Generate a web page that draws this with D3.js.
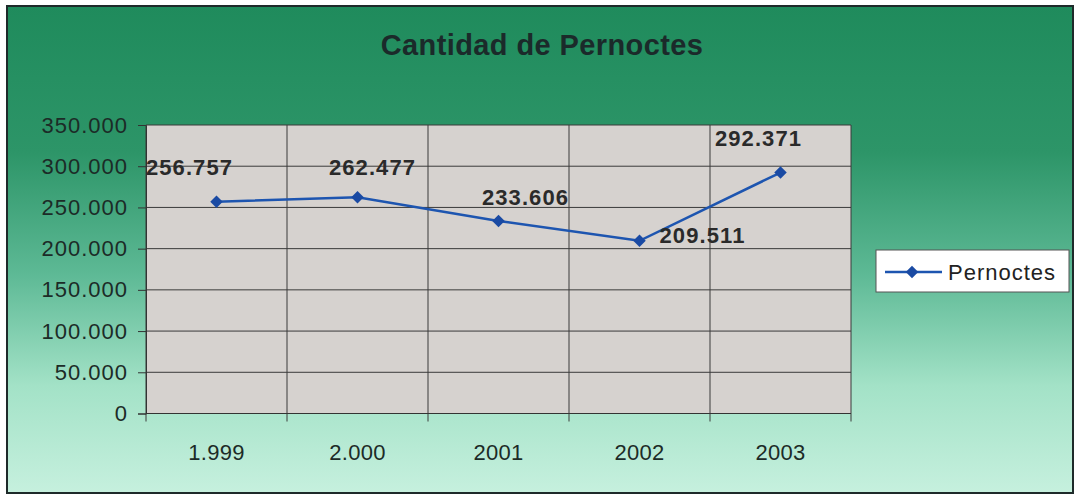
<!DOCTYPE html>
<html>
<head>
<meta charset="utf-8">
<script src="https://cdn.jsdelivr.net/npm/d3@7"></script>
<style>
  body { margin: 0; background: #fff; }
  text { font-family: "Liberation Sans", Arial, sans-serif; }
</style>
</head>
<body>
<svg id="chart" width="1075" height="495"></svg>
<script>
// data
const years = ["1.999", "2.000", "2001", "2002", "2003"];
const pernoctes = [256757, 262477, 233606, 209511, 292371];
const yTicks = [0, 50000, 100000, 150000, 200000, 250000, 300000, 350000];
// label nudges (Excel labels were dragged by hand)
const labelDx = [-27, 15, 27, 63, -22];
const labelDy = [-27, -22, -16, 2, -27];

const svg = d3.select("#chart");
const fmt = v => d3.format(",")(v).replace(/,/g, ".");

// background gradient
const defs = svg.append("defs");
const grad = defs.append("linearGradient").attr("id", "bg")
    .attr("x1", 0).attr("y1", 0).attr("x2", 0).attr("y2", 1);
grad.append("stop").attr("offset", "0%").attr("stop-color", "#1f8b5c");
grad.append("stop").attr("offset", "30%").attr("stop-color", "#2d9568");
grad.append("stop").attr("offset", "55%").attr("stop-color", "#5db995");
grad.append("stop").attr("offset", "78%").attr("stop-color", "#a3e2c7");
grad.append("stop").attr("offset", "100%").attr("stop-color", "#c6f0de");

svg.append("rect")
    .attr("x", 7).attr("y", 6).attr("width", 1066).attr("height", 487)
    .attr("fill", "url(#bg)")
    .attr("stroke", "#1e2a2a").attr("stroke-width", 2);

// title
svg.append("text")
    .attr("x", 542).attr("y", 55)
    .attr("text-anchor", "middle")
    .attr("font-size", 29).attr("font-weight", "bold")
    .attr("letter-spacing", 0.4)
    .attr("fill", "#1b2a2a")
    .text("Cantidad de Pernoctes");

const plotL = 146, plotR = 851, plotT = 125, plotB = 413.5;

const x = d3.scaleBand().domain(years).range([plotL, plotR]);
const y = d3.scaleLinear().domain([0, 350000]).range([plotB, plotT]);

// plot area
svg.append("rect")
    .attr("x", plotL).attr("y", plotT)
    .attr("width", plotR - plotL).attr("height", plotB - plotT)
    .attr("fill", "#d6d2cf");

// horizontal gridlines
svg.append("g").selectAll("line")
    .data(yTicks).enter()
    .append("line")
    .attr("x1", plotL).attr("x2", plotR)
    .attr("y1", d => y(d)).attr("y2", d => y(d))
    .attr("stroke", "#3a3a3a").attr("stroke-width", 1);

// vertical gridlines at category boundaries
const bounds = years.map(d => x(d)).concat([plotR]);
svg.append("g").selectAll("line")
    .data(bounds).enter()
    .append("line")
    .attr("x1", d => d).attr("x2", d => d)
    .attr("y1", plotT).attr("y2", plotB + 8)
    .attr("stroke", "#3a3a3a").attr("stroke-width", 1);

// y axis
const yAxis = svg.append("g")
    .attr("transform", `translate(${plotL},0)`)
    .call(d3.axisLeft(y).tickValues(yTicks).tickFormat(fmt).tickSize(8).tickPadding(10));
yAxis.select(".domain").attr("stroke", "#333");
yAxis.selectAll(".tick line").attr("stroke", "#333");
yAxis.selectAll(".tick text")
    .attr("font-size", 22).attr("letter-spacing", 1)
    .attr("fill", "#1c2b27")
    .attr("font-family", "'Liberation Sans', Arial, sans-serif");

// x axis line + labels
svg.append("line")
    .attr("x1", plotL).attr("x2", plotR)
    .attr("y1", plotB).attr("y2", plotB)
    .attr("stroke", "#333").attr("stroke-width", 1.2);
svg.append("g").selectAll("text")
    .data(years).enter()
    .append("text")
    .attr("x", d => x(d) + x.bandwidth() / 2)
    .attr("y", 460)
    .attr("text-anchor", "middle")
    .attr("font-size", 22).attr("letter-spacing", 0.3)
    .attr("fill", "#1c2b27")
    .text(d => d);

// series
const cx = i => x(years[i]) + x.bandwidth() / 2;
const line = d3.line().x((d, i) => cx(i)).y(d => y(d));
svg.append("path")
    .datum(pernoctes)
    .attr("d", line)
    .attr("fill", "none")
    .attr("stroke", "#1d55b0").attr("stroke-width", 2.5);

// Excel-style diamond: a square turned 45 degrees
const diamond = d3.symbol().type(d3.symbolSquare).size(78);
svg.append("g").selectAll("path")
    .data(pernoctes).enter()
    .append("path")
    .attr("d", diamond)
    .attr("transform", (d, i) => `translate(${cx(i)},${y(d)}) rotate(45)`)
    .attr("fill", "#1a4aa3");

// data labels
svg.append("g").selectAll("text")
    .data(pernoctes).enter()
    .append("text")
    .attr("x", (d, i) => cx(i) + labelDx[i])
    .attr("y", (d, i) => y(d) + labelDy[i])
    .attr("text-anchor", "middle")
    .attr("font-size", 22).attr("font-weight", "bold")
    .attr("letter-spacing", 1.1)
    .attr("fill", "#2a2a2a")
    .text(d => fmt(d));

// legend
const lg = svg.append("g");
lg.append("rect")
    .attr("x", 876).attr("y", 250).attr("width", 193).attr("height", 42)
    .attr("fill", "#fff").attr("stroke", "#555").attr("stroke-width", 1);
lg.append("line")
    .attr("x1", 885).attr("x2", 942).attr("y1", 272).attr("y2", 272)
    .attr("stroke", "#1d55b0").attr("stroke-width", 2.5);
lg.append("path")
    .attr("d", diamond)
    .attr("transform", "translate(912,272) rotate(45)")
    .attr("fill", "#1a4aa3");
lg.append("text")
    .attr("x", 948).attr("y", 280)
    .attr("font-size", 22).attr("letter-spacing", 1)
    .attr("fill", "#222")
    .text("Pernoctes");
</script>
</body>
</html>
